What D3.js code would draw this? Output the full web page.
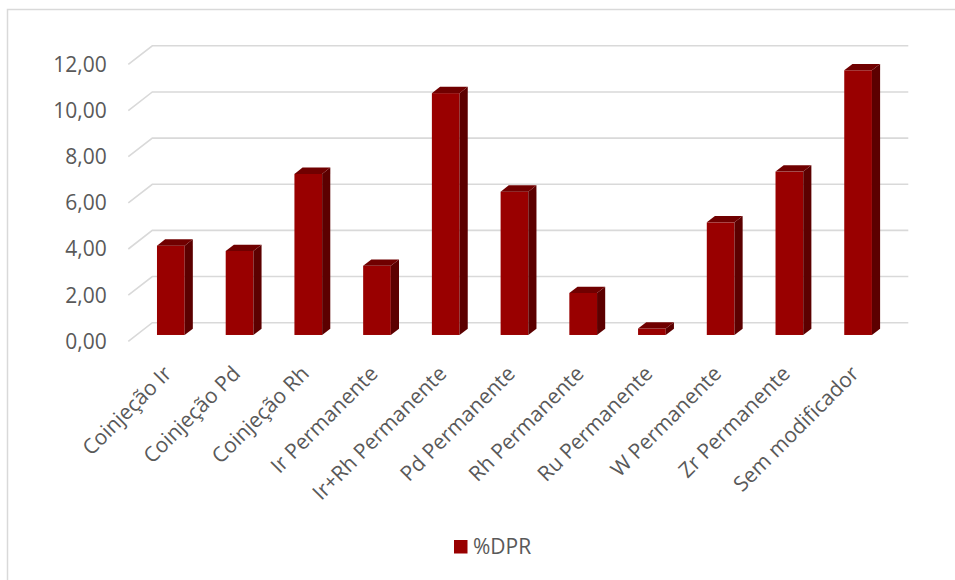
<!DOCTYPE html>
<html><head><meta charset="utf-8">
<script src="https://cdn.jsdelivr.net/npm/d3@7"></script>
<style>html,body{margin:0;padding:0;background:#fff;}svg{display:block;}</style>
</head><body>
<script>
const categories = ["Coinjeção Ir","Coinjeção Pd","Coinjeção Rh","Ir Permanente","Ir+Rh Permanente","Pd Permanente","Rh Permanente","Ru Permanente","W Permanente","Zr Permanente","Sem modificador"];
const dprValues = [3.87, 3.64, 6.98, 3.00, 10.48, 6.21, 1.82, 0.28, 4.88, 7.08, 11.47];
const tickValues = [0, 2, 4, 6, 8, 10, 12];
const tickLabels = ["0,00","2,00","4,00","6,00","8,00","10,00","12,00"];
const seriesName = "%DPR";

const W = 955, H = 580;
const font = "'Open Sans', sans-serif";
const svg = d3.select("body").append("svg").attr("width", W).attr("height", H);

// chart border
svg.append("rect").attr("x", 7.5).attr("y", 9.5).attr("width", 970).attr("height", 600)
  .attr("fill", "none").attr("stroke", "#d9d9d9").attr("stroke-width", 1.5);

const yBack = d3.scaleLinear().domain([0, 12]).range([322.7, 45.8]);
const x = d3.scaleBand().domain(categories).range([152.3, 908.3]).paddingInner(0.597).paddingOuter(0.2985);
const depthX = -24, depthY = 18.6;   // back wall -> front edge
const fFront = 0.66, fBack = 0.32;

// gridlines: back wall + left diagonal
const grid = svg.append("g");
tickValues.forEach(v => {
  const y = yBack(v);
  grid.append("path")
    .attr("d", `M${x.range()[0] + depthX},${y + depthY}L${x.range()[0]},${y}L${x.range()[1]},${y}`)
    .attr("fill", "none").attr("stroke", "#d9d9d9").attr("stroke-width", 1.6);
});

// y tick labels
svg.append("g").selectAll("text").data(tickValues).join("text")
  .attr("x", 106.7).attr("y", d => yBack(d) + depthY)
  .attr("dy", "0.35em").attr("text-anchor", "end")
  .attr("font-family", font).attr("font-size", 21).attr("fill", "#595959")
  .text((d, i) => tickLabels[i]);

// bars
const dx = (fFront - fBack) * -depthX, dy = (fFront - fBack) * depthY;
const bars = svg.append("g").selectAll("g").data(categories.map((c, i) => ({c, v: dprValues[i]}))).join("g");
bars.each(function(d) {
  const g = d3.select(this);
  const x0 = x(d.c) + fFront * depthX;
  const w = x.bandwidth();
  const yt = yBack(d.v) + fFront * depthY;
  const yb = yBack(0) + fFront * depthY;
  g.append("rect").attr("x", x0).attr("y", yt).attr("width", w).attr("height", yb - yt).attr("fill", "#990000");
  g.append("path").attr("d", `M${x0 + w},${yt}L${x0 + w + dx},${yt - dy}L${x0 + w + dx},${yb - dy}L${x0 + w},${yb}Z`).attr("fill", "#5c0000");
  g.append("path").attr("d", `M${x0},${yt}L${x0 + dx},${yt - dy}L${x0 + w + dx},${yt - dy}L${x0 + w},${yt}Z`).attr("fill", "#700000");
});

// x labels
svg.append("g").selectAll("text").data(categories).join("text")
  .attr("transform", d => `translate(${x(d) + fFront * depthX + x.bandwidth() / 2 + 2},375) rotate(-45)`)
  .attr("text-anchor", "end")
  .attr("font-family", font).attr("font-size", 21).attr("fill", "#595959")
  .text(d => d);

// legend
svg.append("rect").attr("x", 454).attr("y", 540).attr("width", 13.5).attr("height", 13.5).attr("fill", "#990000");
svg.append("text").attr("x", 473).attr("y", 554)
  .attr("font-family", font).attr("font-size", 21).attr("fill", "#595959").text(seriesName);
</script>
</body></html>
